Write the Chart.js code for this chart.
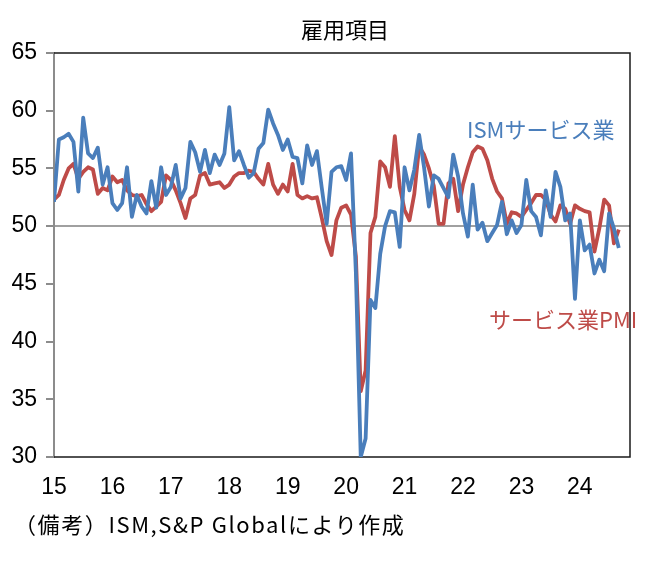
<!DOCTYPE html>
<html lang="ja">
<head>
<meta charset="utf-8">
<script src="https://cdn.jsdelivr.net/npm/chart.js@4.4.1/dist/chart.umd.min.js"></script>
<style>
  body { margin: 0; background: #fff; }
  #wrap { position: relative; width: 645px; height: 561px; }
  .txt { position: absolute; font-family: "Noto Sans CJK JP", sans-serif; white-space: nowrap; line-height: 1; }
</style>
</head>
<body>
<div id="wrap">
  <canvas id="employChart" width="645" height="561"></canvas>
  <div class="txt" id="title" style="left:0;width:690px;text-align:center;top:17px;font-size:22px;color:#000;">雇用項目</div>
  <div class="txt" style="left:467px;top:117px;font-size:22px;color:#4a7ebb;">ISMサービス業</div>
  <div class="txt" style="left:489px;top:307px;font-size:22px;color:#be4b48;">サービス業PMI</div>
  <div class="txt" style="left:14px;top:512px;font-size:22px;letter-spacing:1.6px;color:#000;">（備考）ISM,S&amp;P Globalにより作成</div>
</div>
<script>
// monthly, Jan 2015 - Sep 2024
const yearLabels = ["15", "16", "17", "18", "19", "20", "21", "22", "23", "24"];

const ismServices = [
    52.1, 57.5, 57.7, 58.0, 57.3, 53.0, 59.4, 56.3, 55.9, 56.8, 53.6, 55.1,
    52.0, 51.4, 52.0, 55.1, 50.8, 52.7, 51.7, 51.1, 53.9, 51.6, 55.1, 52.7,
    53.4, 55.3, 52.4, 53.3, 57.3, 56.4, 54.7, 56.6, 54.6, 56.2, 55.3, 56.3,
    60.3, 55.7, 56.5, 55.3, 54.2, 54.6, 56.7, 57.2, 60.1, 58.9, 57.9, 56.6,
    57.5, 56.0, 55.9, 53.7, 57.0, 55.3, 56.5, 53.3, 50.2, 54.7, 55.1, 55.2,
    54.0, 56.3, 46.0, 30.0, 31.6, 43.6, 42.9, 47.6, 50.0, 51.3, 51.2, 48.2,
    55.1, 53.1, 54.9, 57.9, 55.1, 51.7, 54.4, 54.1, 53.3, 52.5, 56.2, 54.3,
    51.1, 49.1, 53.6, 49.7, 50.3, 48.7, 49.4, 50.1, 52.1, 49.3, 50.5, 49.4,
    50.1, 54.0, 51.3, 50.8, 49.2, 53.1, 50.8, 54.7, 53.4, 50.5, 51.1, 43.7,
    50.5, 47.9, 48.4, 45.9, 47.1, 46.1, 51.1, 49.8, 48.1
];

const servicesPmi = [
    52.3, 52.7, 54.0, 55.0, 55.4, 54.1, 54.7, 55.1, 54.9, 52.8, 53.3, 53.1,
    54.3, 53.8, 54.0, 53.1, 52.7, 52.6, 52.7, 51.9, 51.3, 51.7, 52.1, 54.4,
    54.0, 53.1, 52.0, 50.7, 52.4, 52.7, 54.4, 54.6, 53.6, 53.7, 53.8, 53.3,
    53.6, 54.3, 54.6, 54.6, 54.8, 54.7, 54.1, 53.6, 55.4, 53.6, 52.8, 53.6,
    53.0, 55.4, 52.7, 52.4, 52.6, 52.4, 52.5, 50.7, 48.7, 47.5, 50.5, 51.6,
    51.8, 51.0, 47.4, 35.7, 37.5, 49.4, 50.8, 55.6, 55.1, 53.4, 57.8, 53.4,
    51.4, 50.5, 52.8, 56.9, 56.2, 55.0, 53.5, 50.2, 50.2, 53.7, 54.1, 51.3,
    53.6, 55.1, 56.4, 56.9, 56.7, 55.7, 54.1, 53.0, 52.4, 50.2, 51.2, 51.1,
    50.8, 51.4, 52.0, 52.7, 52.7, 52.3, 51.0, 50.4, 51.8, 51.5, 50.2, 51.8,
    51.5, 51.3, 51.2, 47.8, 49.8, 52.3, 51.8, 48.5, 49.7
];

const toPoints = (arr) => arr.map((v, i) => ({ x: i, y: v }));

// plot frame: top, right and bottom edges
const framePlugin = {
    id: "frame",
    beforeDatasetsDraw(chart) {
        const { ctx, chartArea: a } = chart;
        ctx.save();
        ctx.strokeStyle = "#1a1a1a";
        ctx.lineWidth = 1.5;
        ctx.beginPath();
        ctx.moveTo(a.left, a.top);
        ctx.lineTo(a.right, a.top);
        ctx.lineTo(a.right, a.bottom);
        ctx.lineTo(a.left, a.bottom);
        ctx.stroke();
        ctx.restore();
    },
};

new Chart(document.getElementById("employChart"), {
    type: "line",
    data: {
        datasets: [
            {
                label: "ISMサービス業",
                data: toPoints(ismServices),
                borderColor: "#4a7ebb",
                borderWidth: 3.8,
                pointRadius: 0,
                tension: 0,
                borderJoinStyle: "round",
            },
            {
                label: "サービス業PMI",
                data: toPoints(servicesPmi),
                borderColor: "#be4b48",
                borderWidth: 3.8,
                pointRadius: 0,
                tension: 0,
                borderJoinStyle: "round",
            },
        ],
    },
    options: {
        responsive: false,
        animation: false,
        layout: { padding: { top: 53, right: 15, left: 0, bottom: 0 } },
        plugins: { legend: { display: false }, tooltip: { enabled: false } },
        scales: {
            x: {
                type: "linear",
                min: 0,
                max: 118.3,
                grid: { display: false },
                border: { display: false },
                afterFit: (s) => { s.height = 104; },
                afterBuildTicks: (s) => { s.ticks = yearLabels.map((_, i) => ({ value: i * 12 })); },
                ticks: {
                    autoSkip: false,
                    maxRotation: 0,
                    padding: 9,
                    color: "#000",
                    font: { family: "'Liberation Sans Narrow', 'Liberation Sans', sans-serif", size: 23 },
                    callback: (v) => yearLabels[Math.round(v / 12)],
                },
            },
            y: {
                min: 30,
                max: 65,
                afterFit: (s) => { s.width = 54; },
                grid: {
                    color: (c) => (c.tick && c.tick.value === 50 ? "#a0a0a0" : "rgba(0,0,0,0)"),
                    lineWidth: 2,
                    tickLength: 8,
                    tickColor: "#8c8c8c",
                    tickWidth: 2,
                },
                border: { color: "#8c8c8c", width: 2 },
                ticks: {
                    stepSize: 5,
                    padding: 9,
                    color: "#000",
                    font: { family: "'Liberation Sans Narrow', 'Liberation Sans', sans-serif", size: 23 },
                },
            },
        },
    },
    plugins: [framePlugin],
});
</script>
</body>
</html>
